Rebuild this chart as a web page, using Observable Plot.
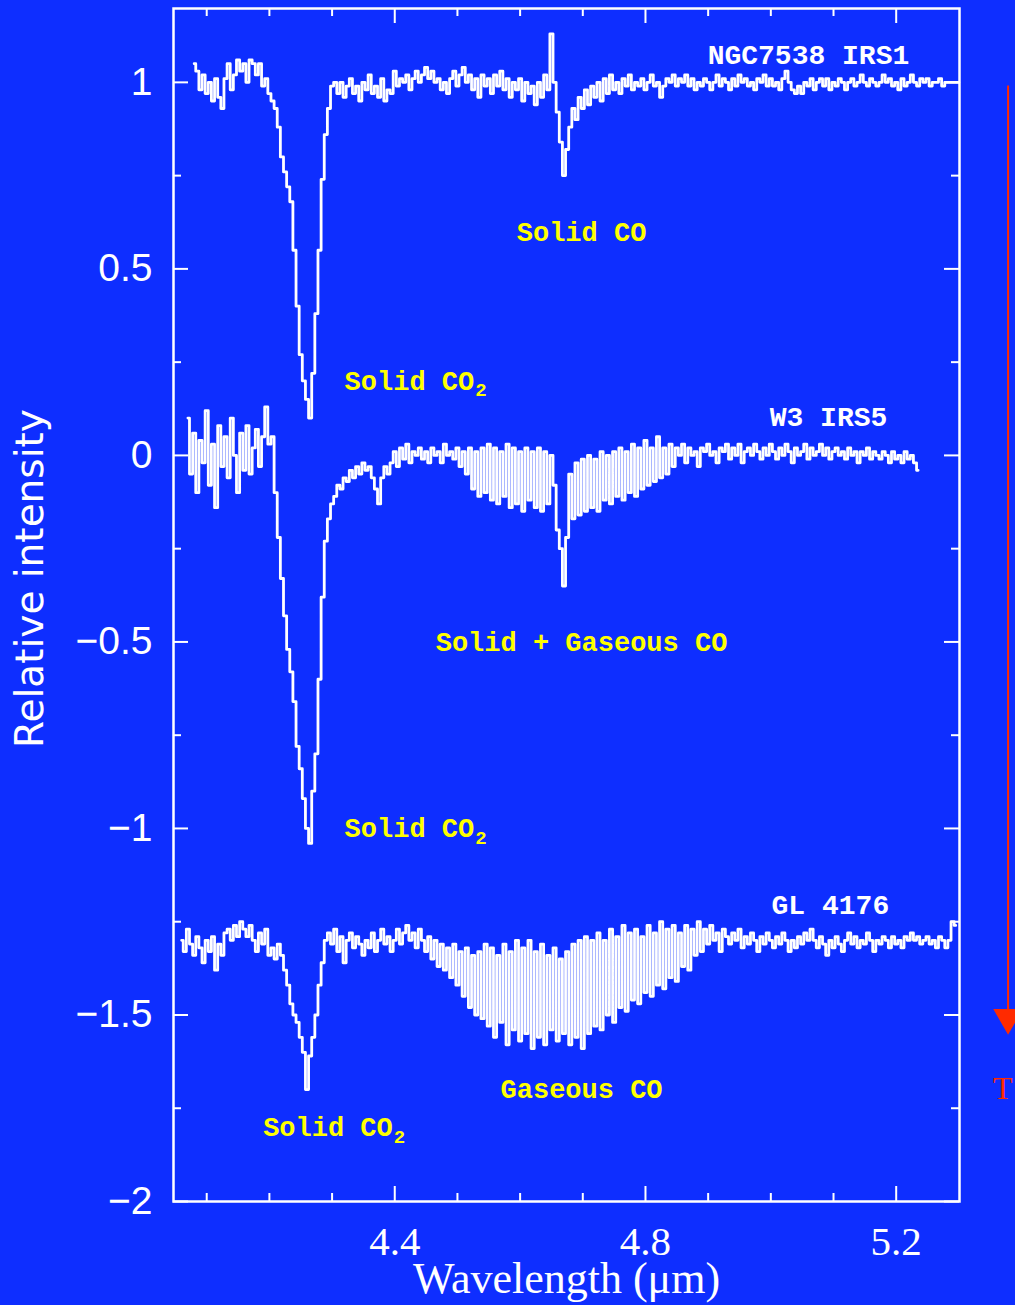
<!DOCTYPE html>
<html><head><meta charset="utf-8">
<script src="https://cdn.jsdelivr.net/npm/d3@7"></script>
<script src="https://cdn.jsdelivr.net/npm/@observablehq/plot@0.6"></script>
<style>html,body{margin:0;padding:0;background:#0e2eff;overflow:hidden}</style>
</head><body><div id="chart"></div>
<script>
// wavelength grid step (micrometres)
const step = 0.005;

// NGC7538 IRS1 (top spectrum), starts 4.080
const ngcStart = 4.080;
const ngcValues = [
 1.05,1.03,0.98,1.02,0.97,1.00,0.95,1.01,0.96,0.93,
 1.01,1.05,0.98,1.02,1.06,1.03,1.05,1.00,1.06,1.05,
 1.02,1.05,0.99,1.01,0.97,0.95,0.93,0.88,0.80,0.76,
 0.72,0.68,0.55,0.40,0.27,0.20,0.15,0.10,0.22,0.38,
 0.55,0.74,0.86,0.93,0.99,1.00,0.97,1.00,0.96,0.99,
 1.01,0.97,0.99,0.95,1.00,0.98,1.02,0.97,0.99,0.96,
 1.01,0.95,0.98,0.97,1.03,0.99,1.01,1.00,1.02,0.98,
 1.01,1.03,1.00,1.02,1.04,1.01,1.03,1.00,1.01,0.98,
 1.00,0.97,1.01,1.03,0.99,1.02,1.04,1.00,1.02,0.98,
 1.01,0.96,1.02,0.99,1.01,0.97,1.02,0.99,1.03,0.98,
 1.01,0.96,1.00,0.98,1.01,0.95,1.00,0.97,0.99,0.94,
 1.00,0.96,1.02,0.98,1.13,1.00,0.92,0.84,0.75,0.82,
 0.88,0.93,0.90,0.96,0.93,0.98,0.94,0.99,0.96,1.00,
 0.95,1.01,0.97,1.02,0.98,1.00,0.97,1.01,0.99,1.02,
 0.98,1.00,0.99,1.01,0.98,1.00,1.02,0.99,1.00,0.96,
 0.99,1.01,1.00,1.02,0.99,1.01,1.00,1.02,0.99,1.01,
 0.98,1.00,0.99,1.01,1.00,0.98,1.00,1.02,0.99,1.01,
 1.00,0.98,1.01,0.99,1.02,1.00,1.01,0.99,1.00,0.98,
 1.01,1.00,1.02,0.99,1.01,0.99,1.00,0.98,1.01,1.03,
 1.00,0.98,0.97,0.99,0.97,1.00,0.99,1.01,0.98,1.00,
 1.01,0.99,1.01,0.98,1.00,0.99,1.01,1.00,0.98,1.00,
 1.01,0.99,1.00,1.02,1.00,0.99,1.01,1.00,0.99,1.00,
 1.02,1.00,1.01,0.99,1.00,0.98,1.01,0.99,1.00,1.02,
 1.00,0.99,1.01,1.00,1.01,0.99,1.00,1.00,1.01,0.99,
 1.00,1.00,1.00,1.00,1.00
];

// W3 IRS5 (middle spectrum, offset -1), starts 4.070
const w3Start = 4.070;
const w3Values = [
 0.10,-0.05,0.06,-0.10,0.04,-0.02,0.12,-0.08,0.03,-0.14,
 0.08,-0.03,0.05,-0.06,0.10,0.00,-0.10,0.06,-0.04,0.08,
 -0.05,0.02,0.07,-0.03,0.05,0.13,0.03,0.05,-0.10,-0.22,
 -0.33,-0.43,-0.52,-0.58,-0.66,-0.78,-0.84,-0.92,-1.00,-1.04,
 -0.90,-0.80,-0.60,-0.38,-0.23,-0.17,-0.13,-0.11,-0.08,-0.09,
 -0.06,-0.07,-0.04,-0.06,-0.03,-0.05,-0.02,-0.04,-0.03,-0.06,
 -0.09,-0.13,-0.06,-0.03,-0.05,-0.02,0.01,-0.03,0.02,-0.01,
 0.03,-0.02,0.01,0.00,0.02,-0.01,0.01,-0.02,0.02,0.00,
 0.01,-0.02,0.03,0.00,0.01,-0.01,0.02,-0.03,0.01,-0.05,
 0.02,-0.09,0.01,-0.11,0.02,-0.10,0.03,-0.12,0.02,-0.13,
 0.01,-0.11,0.03,-0.14,0.02,-0.13,0.01,-0.15,0.02,-0.12,
 0.01,-0.14,0.02,-0.15,0.01,-0.13,0.00,-0.08,-0.20,-0.25,
 -0.35,-0.22,-0.05,-0.17,-0.02,-0.16,-0.01,-0.15,0.00,-0.14,
 -0.01,-0.15,0.01,-0.12,0.00,-0.13,0.01,-0.11,0.02,-0.12,
 0.01,-0.10,0.03,-0.11,0.02,-0.09,0.04,-0.08,0.02,-0.07,
 0.05,-0.06,0.02,-0.05,0.03,-0.03,0.02,0.00,0.03,-0.02,
 0.02,0.00,0.01,-0.03,0.02,0.01,0.03,0.00,0.01,-0.02,
 0.02,0.01,0.03,-0.01,0.02,0.00,0.03,-0.02,0.01,0.02,
 0.00,0.03,0.01,-0.01,0.02,0.00,0.03,0.01,-0.01,0.02,
 0.00,0.03,0.01,-0.02,0.02,0.00,0.01,0.03,-0.01,0.02,
 0.00,0.01,0.03,0.00,0.02,-0.01,0.01,0.02,0.00,0.01,
 -0.01,0.02,0.00,0.01,-0.02,0.01,0.00,0.02,-0.01,0.01,
 0.00,-0.01,0.01,0.00,-0.02,0.01,-0.01,0.00,-0.02,0.01,
 -0.01,0.00,-0.02,-0.04
];

// GL 4176 (bottom spectrum, offset -1.3), starts 4.060
const glStart = 4.060;
const glValues = [
 -1.30,-1.33,-1.27,-1.31,-1.34,-1.29,-1.32,-1.36,-1.30,-1.33,
 -1.29,-1.38,-1.31,-1.34,-1.28,-1.27,-1.30,-1.26,-1.29,-1.25,
 -1.27,-1.29,-1.26,-1.30,-1.33,-1.28,-1.31,-1.27,-1.34,-1.32,
 -1.35,-1.31,-1.34,-1.38,-1.42,-1.47,-1.50,-1.52,-1.56,-1.60,
 -1.70,-1.61,-1.56,-1.50,-1.42,-1.36,-1.30,-1.28,-1.31,-1.27,
 -1.33,-1.29,-1.36,-1.30,-1.28,-1.32,-1.29,-1.31,-1.34,-1.30,
 -1.32,-1.28,-1.33,-1.30,-1.27,-1.31,-1.29,-1.33,-1.30,-1.27,
 -1.31,-1.28,-1.26,-1.30,-1.28,-1.32,-1.27,-1.30,-1.33,-1.29,
 -1.35,-1.30,-1.37,-1.31,-1.38,-1.32,-1.40,-1.31,-1.42,-1.33,
 -1.45,-1.32,-1.48,-1.34,-1.50,-1.33,-1.51,-1.31,-1.53,-1.32,
 -1.56,-1.34,-1.52,-1.31,-1.58,-1.33,-1.54,-1.30,-1.57,-1.32,
 -1.55,-1.30,-1.59,-1.33,-1.56,-1.31,-1.58,-1.34,-1.54,-1.32,
 -1.57,-1.35,-1.55,-1.33,-1.58,-1.31,-1.56,-1.30,-1.59,-1.29,
 -1.55,-1.30,-1.53,-1.28,-1.54,-1.30,-1.50,-1.27,-1.52,-1.29,
 -1.48,-1.26,-1.49,-1.28,-1.46,-1.27,-1.47,-1.29,-1.44,-1.26,
 -1.45,-1.28,-1.42,-1.25,-1.43,-1.27,-1.40,-1.26,-1.41,-1.28,
 -1.37,-1.26,-1.38,-1.27,-1.34,-1.25,-1.33,-1.27,-1.31,-1.26,
 -1.30,-1.28,-1.33,-1.27,-1.29,-1.31,-1.28,-1.30,-1.27,-1.32,
 -1.29,-1.31,-1.28,-1.30,-1.33,-1.29,-1.31,-1.28,-1.30,-1.32,
 -1.29,-1.31,-1.28,-1.30,-1.33,-1.30,-1.32,-1.29,-1.31,-1.28,
 -1.30,-1.27,-1.30,-1.32,-1.29,-1.31,-1.34,-1.30,-1.32,-1.29,
 -1.31,-1.33,-1.30,-1.28,-1.31,-1.29,-1.32,-1.30,-1.31,-1.28,
 -1.30,-1.33,-1.30,-1.31,-1.29,-1.30,-1.32,-1.29,-1.31,-1.30,
 -1.32,-1.29,-1.30,-1.28,-1.30,-1.29,-1.31,-1.30,-1.29,-1.31,
 -1.30,-1.32,-1.29,-1.30,-1.32,-1.30,-1.25,-1.26
];

// axes
const xMajorTicks = [4.4, 4.8, 5.2];
const xMinorTicks = [4.1, 4.2, 4.3, 4.5, 4.6, 4.7, 4.9, 5.0, 5.1];
const xTickLabels = ["4.4", "4.8", "5.2"];
const yMajorTicks = [1, 0.5, 0, -0.5, -1, -1.5, -2];
const yMinorTicks = [0.75, 0.25, -0.25, -0.75, -1.25, -1.75];
const yTickLabels = ["1", "0.5", "0", "\u22120.5", "\u22121", "\u22121.5", "\u22122"];
const xTitle = "Wavelength (\u03bcm)";
const yTitle = "Relative intensity";
const yTitlePos = -0.33;

// source names
const sourceNames = ["NGC7538 IRS1", "W3 IRS5", "GL 4176"];
const sourceX = [5.060, 5.092, 5.095];
const sourceY = [1.072, 0.103, -1.205];

// feature labels (centred)
const featureNames = ["Solid CO", "Solid + Gaseous CO", "Gaseous CO"];
const featureX = [4.698, 4.698, 4.698];
const featureY = [0.598, -0.50, -1.70];

// CO2 labels (left aligned)
const co2Text = "Solid CO";
const co2Sub = "2";
const co2X = [4.320, 4.320, 4.190];
const co2Y = [0.199, -1.001, -1.802];

// red arrow at the right edge
const arrowX = [5.3785];
const arrowTop = [0.99];
const arrowBottom = [-1.50];
const arrowHeadY = [-1.507];
const arrowLabel = ["T"];
const arrowLabelX = [5.3855];
const arrowLabelY = [-1.697];

function spectrum(name, start, values) {
  return values.map((v, i) => ({name, x: +(start + i * step).toFixed(3), y: v}));
}
const spectra = [
  ...spectrum(sourceNames[0], ngcStart, ngcValues),
  ...spectrum(sourceNames[1], w3Start, w3Values),
  ...spectrum(sourceNames[2], glStart, glValues)
];

const W = 1015, H = 1305, mL = 173, mR = 56, mT = 8, mB = 104;
const innerH = H - mT - mB;
const innerW = W - mL - mR;
const majorLen = 15, minorLen = 8;
const white = "white", yellow = "#ffff00", red = "#ff2a00";
const monoFont = "Liberation Mono";
const labFs = 27;

const sourceData = sourceNames.map((t, i) => ({t, x: sourceX[i], y: sourceY[i]}));
const featureData = featureNames.map((t, i) => ({t, x: featureX[i], y: featureY[i]}));
const co2Data = co2X.map((x, i) => ({x, y: co2Y[i]}));
const yLabData = yMajorTicks.map((v, i) => ({v, t: yTickLabels[i]}));
const xLabData = xMajorTicks.map((v, i) => ({v, t: xTickLabels[i]}));

const tickStyle = {stroke: white, strokeWidth: 2};

const chart = Plot.plot({
  width: W, height: H,
  marginLeft: mL, marginRight: mR, marginTop: mT, marginBottom: mB,
  style: {background: "#0e2eff", color: white},
  x: {domain: [4.047, 5.301], axis: null},
  y: {domain: [-2, 1.198], axis: null},
  marks: [
    // ticks: bottom / top
    Plot.tickX(xMajorTicks, {...tickStyle, insetTop: innerH - majorLen}),
    Plot.tickX(xMinorTicks, {...tickStyle, insetTop: innerH - minorLen}),
    Plot.tickX(xMajorTicks, {...tickStyle, insetBottom: innerH - majorLen}),
    Plot.tickX(xMinorTicks, {...tickStyle, insetBottom: innerH - minorLen}),
    // ticks: left / right
    Plot.tickY(yMajorTicks, {...tickStyle, insetRight: innerW - majorLen}),
    Plot.tickY(yMinorTicks, {...tickStyle, insetRight: innerW - minorLen}),
    Plot.tickY(yMajorTicks, {...tickStyle, insetLeft: innerW - majorLen}),
    Plot.tickY(yMinorTicks, {...tickStyle, insetLeft: innerW - minorLen}),
    Plot.frame({stroke: white, strokeWidth: 2.5}),
    // spectra
    Plot.line(spectra, {x: "x", y: "y", z: "name", curve: "step", stroke: white, strokeWidth: 2.8}),
    // tick labels
    Plot.text(yLabData, {y: "v", text: "t", frameAnchor: "left", textAnchor: "end", dx: -21,
      fontSize: 39, fontFamily: "Liberation Sans", fill: white}),
    Plot.text(xLabData, {x: "v", text: "t", frameAnchor: "bottom", dy: 53,
      fontSize: 41, fontFamily: "Liberation Serif", fill: white}),
    // axis titles
    Plot.text([xTitle], {text: d => d, frameAnchor: "bottom", dy: 91,
      fontSize: 44, fontFamily: "Liberation Serif", fill: white}),
    Plot.text([{t: yTitle, y: yTitlePos}], {text: "t", y: "y", frameAnchor: "left", textAnchor: "middle", dx: -143, rotate: -90,
      fontSize: 39, fontFamily: "DejaVu Sans", fill: white}),
    // source names
    Plot.text(sourceData, {x: "x", y: "y", text: "t", fontSize: 28, fontFamily: monoFont, fontWeight: "bold", fill: white}),
    // feature labels
    Plot.text(featureData, {x: "x", y: "y", text: "t", fontSize: labFs, fontFamily: monoFont, fontWeight: "bold", fill: yellow}),
    Plot.text(co2Data, {x: "x", y: "y", text: () => co2Text, textAnchor: "start", fontSize: labFs, fontFamily: monoFont, fontWeight: "bold", fill: yellow}),
    Plot.text(co2Data, {x: "x", y: "y", text: () => co2Sub, textAnchor: "start", dx: co2Text.length * 0.6 * labFs + 1, dy: 9,
      fontSize: 19, fontFamily: monoFont, fontWeight: "bold", fill: yellow}),
    // red arrow
    Plot.ruleX(arrowX, {x: d => d, y1: () => arrowTop[0], y2: () => arrowBottom[0], stroke: red, strokeWidth: 2}),
    Plot.dot(arrowX, {x: d => d, y: () => arrowHeadY[0], symbol: "triangle", rotate: 180, r: 11, fill: red, stroke: "none"}),
    Plot.text(arrowLabel, {x: () => arrowLabelX[0], y: () => arrowLabelY[0], text: d => d, textAnchor: "end",
      fontSize: 32, fontFamily: "Liberation Serif", fill: red})
  ]
});
document.getElementById("chart").appendChild(chart);
</script>
</body></html>
